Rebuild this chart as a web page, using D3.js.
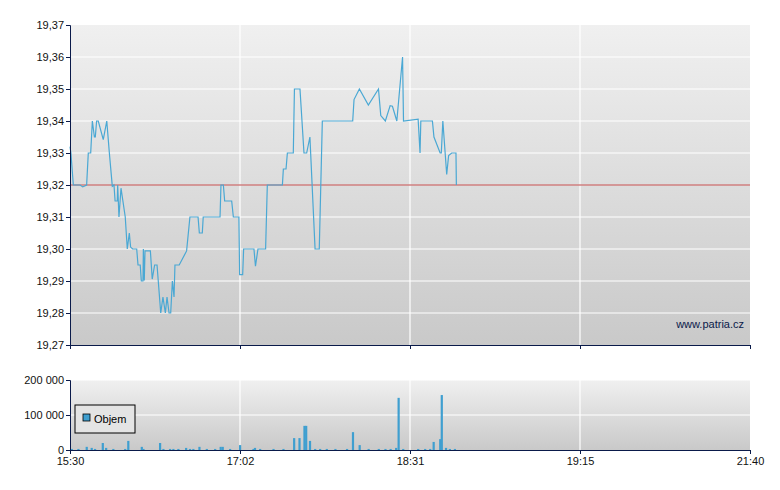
<!DOCTYPE html>
<html><head><meta charset="utf-8">
<script src="https://cdn.jsdelivr.net/npm/d3@7"></script>
<style>body{margin:0;background:#fff}text{font-family:"Liberation Sans",Arial,sans-serif}</style>
</head><body><svg id="c" width="780" height="490"></svg>
<script>
// minutes from 15:30, price
const priceTimes = [0,0.5,1.8,5.4,6.9,9.0,9.9,11.2,12.1,13.2,13.7,14.4,15.3,18.0,19.9,21.3,22.9,23.8,24.4,25.6,25.8,26.5,27.6,29.9,31.0,32.1,32.8,33.9,36.1,36.8,38.0,38.6,39.5,39.7,40.2,40.6,43.5,44.5,45.8,47.1,49.1,50.3,51.6,52.5,53.6,54.5,55.4,56.3,56.8,59.1,63.1,64.9,69.3,70.0,71.6,72.1,81.2,81.7,83.0,83.7,87.5,88.4,91.4,91.8,93.4,93.9,99.3,100.1,101.4,105.4,106.3,114.2,114.7,116.1,116.8,119.9,120.5,123.4,125.5,126.9,128.6,131.3,133.5,135.1,151.0,151.7,154.5,159.2,164.5,165.7,168.1,170.6,171.8,174.1,177.1,177.6,183.1,183.6,183.8,186.8,187.2,188.8,189.1,189.5,190.5,191.0,191.8,192.9,193.0];
const priceValues = [19.332,19.33,19.32,19.32,19.3194,19.32,19.33,19.33,19.34,19.335,19.335,19.34,19.34,19.3342,19.34,19.33,19.3196,19.32,19.315,19.315,19.32,19.31,19.319,19.31,19.30,19.305,19.3006,19.30,19.30,19.295,19.295,19.29,19.29,19.30,19.2902,19.2994,19.2994,19.2906,19.295,19.295,19.28,19.285,19.28,19.285,19.28,19.28,19.29,19.285,19.295,19.295,19.2994,19.31,19.31,19.305,19.305,19.31,19.31,19.32,19.32,19.315,19.315,19.31,19.31,19.292,19.292,19.30,19.30,19.2946,19.30,19.30,19.32,19.32,19.325,19.325,19.33,19.33,19.35,19.35,19.33,19.33,19.335,19.30,19.30,19.34,19.34,19.3467,19.35,19.345,19.35,19.3417,19.34,19.3448,19.3446,19.34,19.36,19.34,19.3406,19.33,19.34,19.34,19.335,19.33,19.33,19.34,19.3233,19.3292,19.33,19.33,19.32];
const volTimes = [0.9,4.5,9.0,11.7,13.5,17.7,19.5,23.4,29.8,31.5,38.8,39.7,48.7,50.5,54.1,55.9,58.6,62.8,64.9,66.7,70.0,74.0,78.5,81.5,82.6,86.6,92.0,99.0,99.8,102.5,109.5,114.7,120.3,123.1,125.7,126.6,128.6,131.3,133.9,137.4,141.9,148.0,151.1,154.6,159.3,164.6,168.1,170.8,173.7,175.0,177.4,183.1,184.9,186.2,187.1,188.8,189.2,190.3,191.3,192.6];
const volValues = [3000,3000,9000,6000,3000,20000,6000,3000,3000,26000,9000,3000,20000,3000,3000,3000,3000,6000,3000,3000,9000,3000,3000,9000,9000,3000,14000,3000,6000,3000,3000,3000,34000,34000,69000,69000,26000,3000,3000,3000,3000,3000,51000,14000,3000,3000,3000,3000,6000,149000,3000,3000,3000,3000,23000,31000,157000,6000,3000,3000];
const tickMinutes = [0,92,181,225,370];
const tickLabels = ["15:30","17:02","18:31","19:15","21:40"];
const priceTicks = [19.27,19.28,19.29,19.30,19.31,19.32,19.33,19.34,19.35,19.36,19.37];
const volTicks = [0,100000,200000];
const refPrice = 19.32;

const svg = d3.select("#c");
const L = 70, R = 750;
const x = d3.scaleLinear().domain(tickMinutes).range([70,240,410,580,750]);
const y = d3.scaleLinear().domain([19.27,19.37]).range([345,25]);
const yv = d3.scaleLinear().domain([0,200000]).range([450,380]);
const fmt = v => d3.format(".2f")(v).replace(".", ",");
const fmtV = v => d3.format(",")(v).replace(/,/g, " ");

const defs = svg.append("defs");
const g1 = defs.append("linearGradient").attr("id","bg").attr("x1",0).attr("y1",0).attr("x2",0).attr("y2",1);
g1.append("stop").attr("offset","0%").attr("stop-color","#f0f0f0");
g1.append("stop").attr("offset","100%").attr("stop-color","#c9c9c9");

function panel(y0, y1) {
    svg.append("rect").attr("x", L).attr("y", y0).attr("width", R - L).attr("height", y1 - y0).attr("fill", "url(#bg)");
}
panel(25, 345);
panel(380, 450);

// grid
svg.append("g").selectAll("line").data(priceTicks.slice(1, -1)).enter().append("line")
    .attr("x1", L).attr("x2", R).attr("y1", d => y(d)).attr("y2", d => y(d))
    .attr("stroke", "#fff").attr("stroke-width", 1.2);
svg.append("g").selectAll("line").data(volTicks.slice(1)).enter().append("line")
    .attr("x1", L).attr("x2", R).attr("y1", d => yv(d)).attr("y2", d => yv(d))
    .attr("stroke", "#fff").attr("stroke-width", 1.2);
[[25,345],[380,450]].forEach(([a,b]) => {
    svg.append("g").selectAll("line").data(tickMinutes.slice(1, -1)).enter().append("line")
        .attr("x1", d => x(d)).attr("x2", d => x(d)).attr("y1", a).attr("y2", b)
        .attr("stroke", "#fff").attr("stroke-width", 1.2);
});

// reference line
svg.append("line").attr("x1", L).attr("x2", R).attr("y1", y(refPrice)).attr("y2", y(refPrice))
    .attr("stroke", "#b84040").attr("stroke-width", 1);

// price line
const pts = priceTimes.map((t, i) => [t, priceValues[i]]);
svg.append("path").datum(pts)
    .attr("d", d3.line().x(d => x(d[0])).y(d => y(d[1])))
    .attr("fill", "none").attr("stroke", "#4aa8d4").attr("stroke-width", 1.2);

// volume bars
svg.append("g").selectAll("rect").data(volTimes).enter().append("rect")
    .attr("x", d => x(d) - 1).attr("width", 2.2)
    .attr("y", (d, i) => yv(volValues[i])).attr("height", (d, i) => 450 - yv(volValues[i]))
    .attr("fill", "#3f9fd0");

// axes
const navy = "#0a1a4a";
const ya = svg.append("g").attr("transform", `translate(${L},0)`)
    .call(d3.axisLeft(y).tickValues(priceTicks).tickFormat(fmt).tickSize(4));
const yva = svg.append("g").attr("transform", `translate(${L},0)`)
    .call(d3.axisLeft(yv).tickValues(volTicks).tickFormat(fmtV).tickSize(4));
const xa = svg.append("g").attr("transform", "translate(0,450)")
    .call(d3.axisBottom(x).tickValues(tickMinutes).tickFormat((d, i) => tickLabels[i]).tickSize(4));
const xa2 = svg.append("g").attr("transform", "translate(0,345)")
    .call(d3.axisBottom(x).tickValues(tickMinutes).tickFormat("").tickSize(4));
[ya, yva, xa, xa2].forEach(a => {
    a.selectAll("path,line").attr("stroke", navy);
    a.selectAll("text").attr("fill", "#111").style("font-size", "11px");
});
ya.selectAll("text").attr("x", -6);
yva.selectAll("text").attr("x", -6);

svg.append("text").attr("x", 744).attr("y", 328).attr("text-anchor", "end")
    .attr("fill", navy).style("font-size", "11px").text("www.patria.cz");

// legend
const lg = svg.append("g");
lg.append("rect").attr("x", 75).attr("y", 405).attr("width", 60).attr("height", 28)
    .attr("fill", "#e4e4e4").attr("stroke", "#000");
lg.append("rect").attr("x", 83).attr("y", 414).attr("width", 7).attr("height", 7)
    .attr("fill", "#3f9fd0").attr("stroke", "#000").attr("stroke-width", 0.8);
lg.append("text").attr("x", 94).attr("y", 423).style("font-size", "11px").attr("fill", "#000").text("Objem");
</script></body></html>
